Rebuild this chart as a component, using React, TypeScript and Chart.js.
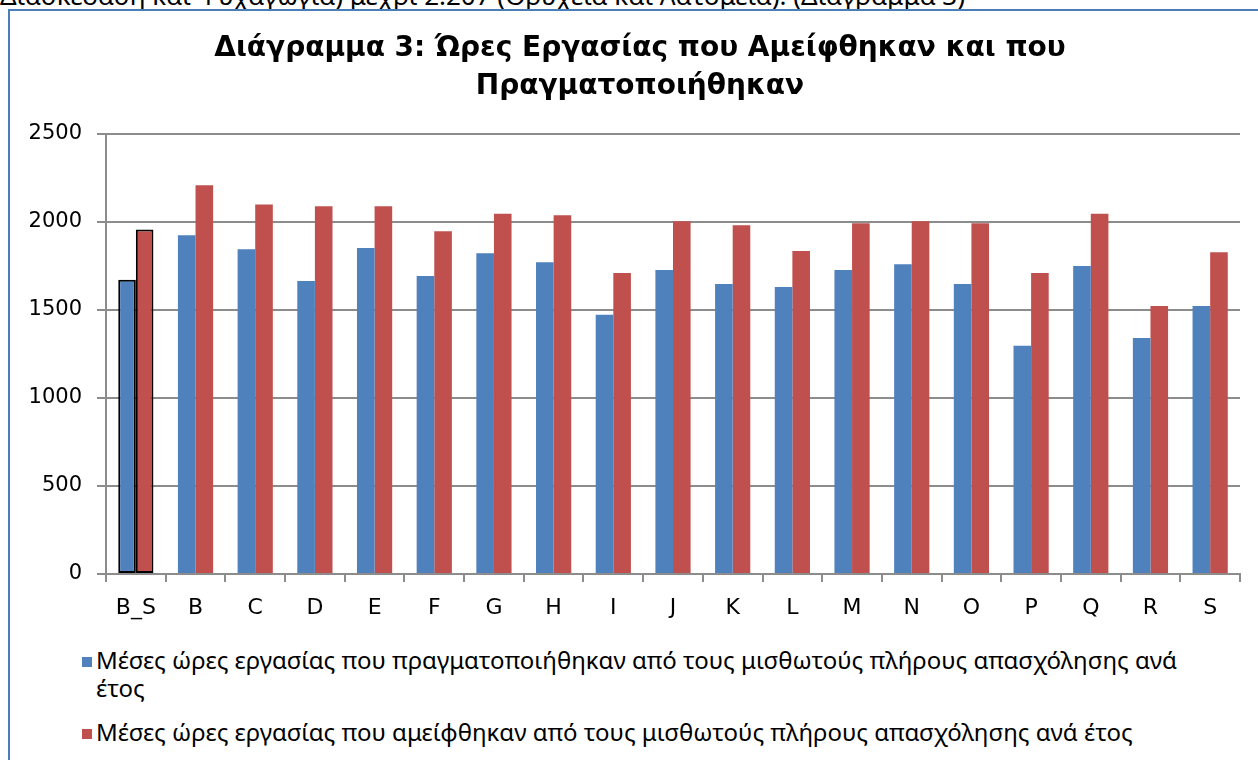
import React, { useEffect, useRef } from 'react';
import { Chart, registerables } from 'chart.js';

Chart.register(...registerables);

const categories = ['B_S', 'B', 'C', 'D', 'E', 'F', 'G', 'H', 'I', 'J', 'K', 'L', 'M', 'N', 'O', 'P', 'Q', 'R', 'S'];
const workedHours = [1670, 1923, 1844, 1663, 1850, 1691, 1821, 1770, 1471, 1725, 1646, 1629, 1725, 1759, 1646, 1295, 1748, 1340, 1521];
const paidHours = [1955, 2207, 2098, 2088, 2088, 1946, 2045, 2036, 1708, 2002, 1980, 1833, 1991, 2002, 1991, 1708, 2045, 1521, 1827];
const seriesLabels = [
  'Μέσες ώρες εργασίας που πραγματοποιήθηκαν από τους μισθωτούς πλήρους απασχόλησης ανά έτος',
  'Μέσες ώρες εργασίας που αμείφθηκαν από τους μισθωτούς πλήρους απασχόλησης ανά έτος',
];
const seriesColors = ['#4F81BD', '#C0504D'];
const titleLines = ['Διάγραμμα 3: Ώρες Εργασίας που Αμείφθηκαν και που', 'Πραγματοποιήθηκαν'];
const introText = 'Διασκέδαση και Ψυχαγωγία) μέχρι 2.207 (Ορυχεία και Λατομεία). (Διάγραμμα 3)';
const yMin = 0;
const yMax = 2500;
const yStep = 500;

const GRID = '#8C8C8C';

// widen the title box to the full chart width (the chart frame runs past the right edge)
const titleWiden = {
  id: 'titleWiden',
  afterLayout(chart: any) {
    const t = chart.titleBlock;
    if (t) {
      t.right = t.right + 30;
      t.width = t.right - t.left;
    }
  },
};

export default function App() {
  const canvasRef = useRef<HTMLCanvasElement | null>(null);

  useEffect(() => {
    document.body.style.margin = '0';
    const canvas = canvasRef.current;
    if (!canvas) return;
    const highlight = (i: number) => i === 0;
    const chart = new Chart(canvas, {
      type: 'bar',
      data: {
        labels: categories,
        datasets: [workedHours, paidHours].map((vals, k) => ({
          label: seriesLabels[k],
          data: vals,
          backgroundColor: seriesColors[k],
          borderColor: vals.map((_, i) => (highlight(i) ? '#000000' : seriesColors[k])),
          borderWidth: vals.map((_, i) => (highlight(i) ? 2 : 0)),
          borderSkipped: false,
          barPercentage: 1,
          categoryPercentage: 0.59,
        })),
      },
      plugins: [titleWiden],
      options: {
        responsive: false,
        animation: false,
        layout: { padding: { left: 0, right: 30, top: 0, bottom: 0 } },
        plugins: {
          legend: { display: false },
          tooltip: { enabled: false },
          title: {
            display: true,
            text: titleLines,
            color: '#000000',
            font: { family: 'DejaVu Sans', size: 28, weight: 'bold', lineHeight: 1.35 },
            padding: { top: 19, bottom: 28 },
          },
        },
        scales: {
          x: {
            grid: { drawOnChartArea: false, drawTicks: true, tickLength: 8, color: GRID, lineWidth: 2 },
            border: { display: true, color: GRID, width: 2 },
            ticks: { color: '#000000', padding: 13, font: { family: 'DejaVu Sans', size: 22 }, maxRotation: 0, autoSkip: false },
            afterFit: (scale: any) => {
              scale.height = 50;
            },
          },
          y: {
            min: yMin,
            max: yMax,
            ticks: {
              stepSize: yStep,
              color: '#000000',
              padding: 15,
              font: { family: 'DejaVu Sans', size: 21 },
              callback: (v: any) => String(v),
            },
            grid: { color: GRID, lineWidth: 2, tickLength: 9 },
            border: { display: true, color: GRID, width: 2 },
            afterFit: (scale: any) => {
              scale.width = 96;
            },
          },
        },
      },
    });
    return () => chart.destroy();
  }, []);

  return (
    <div style={{ position: 'relative', width: 1258, height: 760, overflow: 'hidden', background: '#ffffff' }}>
      <div
        style={{
          position: 'absolute',
          left: 0,
          top: -23,
          whiteSpace: 'nowrap',
          fontFamily: "'Noto Sans', sans-serif",
          fontSize: 26,
          color: '#000',
        }}
      >
        {introText}
      </div>
      <div
        style={{
          position: 'absolute',
          left: 8,
          top: 9,
          width: 1300,
          height: 800,
          borderLeft: '2px solid #4A7EBB',
          borderTop: '2px solid #4A7EBB',
          background: '#ffffff',
        }}
      >
        <canvas ref={canvasRef} width={1260} height={613} style={{ position: 'absolute', left: 0, top: 0, width: 1260, height: 613 }} />
        <div style={{ position: 'absolute', left: 72, top: 635, width: 1120, fontFamily: "'Noto Sans', sans-serif", fontSize: 24, color: '#000' }}>
          {seriesLabels.map((lbl, k) => (
            <div key={k} style={{ display: 'flex', alignItems: 'flex-start', lineHeight: '28px', marginBottom: 16 }}>
              <span style={{ display: 'inline-block', width: 10, height: 10, background: seriesColors[k], marginTop: 11, marginRight: 4, flex: '0 0 auto' }} />
              <span>{lbl}</span>
            </div>
          ))}
        </div>
      </div>
    </div>
  );
}
